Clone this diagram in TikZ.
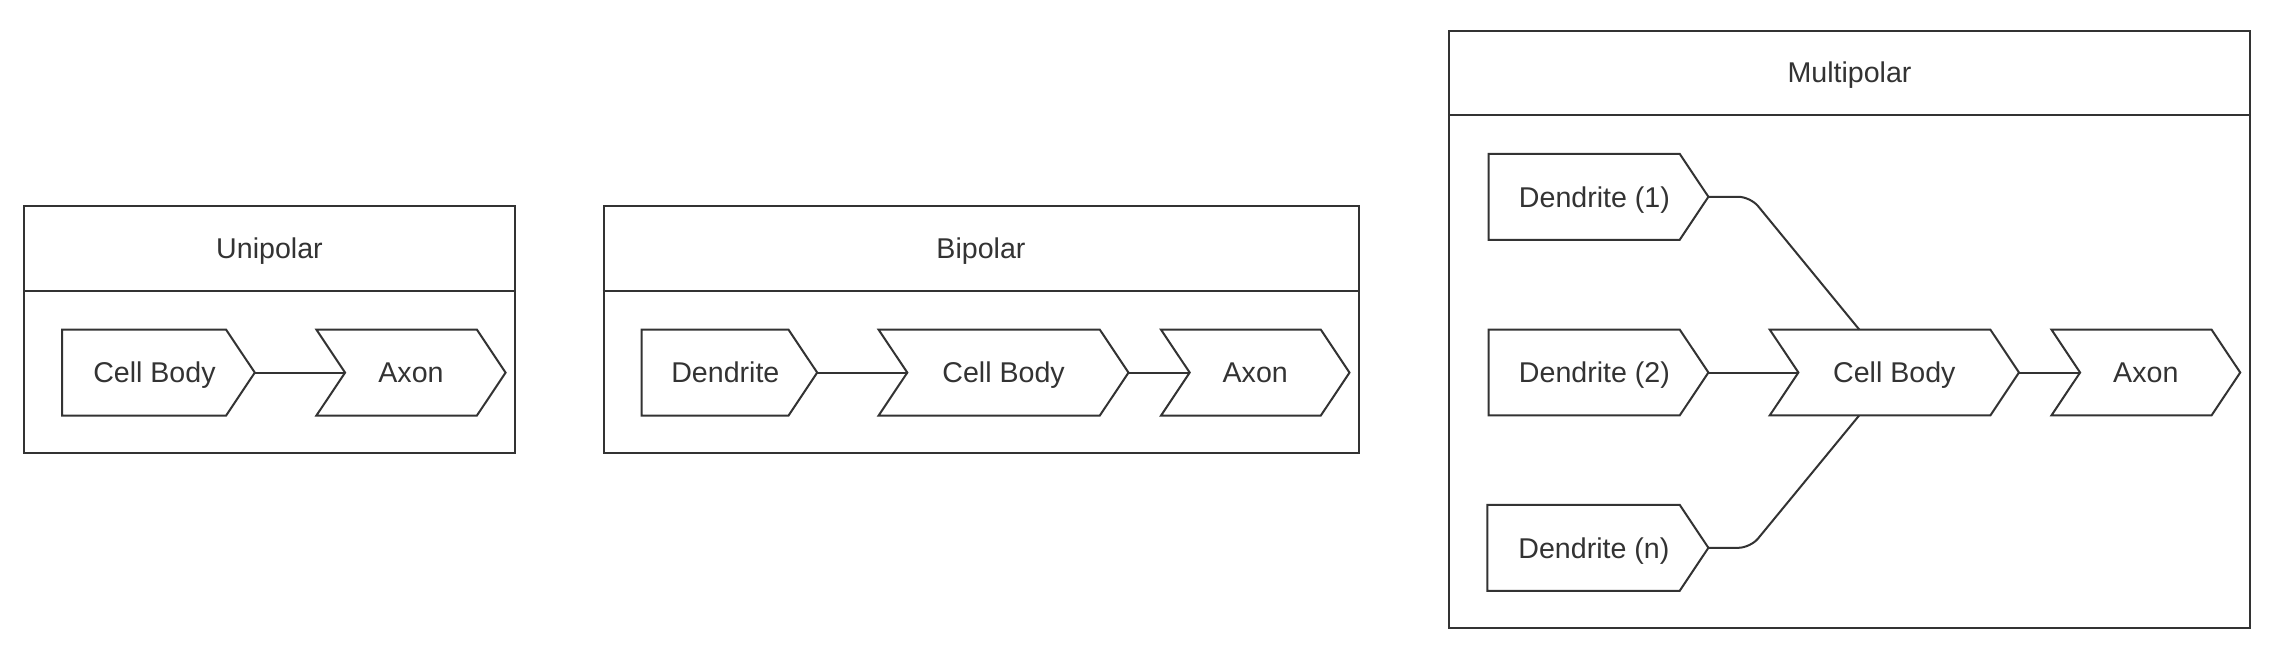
\documentclass[tikz,border=0pt]{standalone}
\usepackage{fontspec}
\setmainfont{Liberation Sans}
\definecolor{linec}{HTML}{333333}
\definecolor{textc}{HTML}{333333}
\newcommand{\lblfont}{\fontsize{28.6}{34}\selectfont}
\newcommand{\tipd}{28.7pt}
\tikzset{
  stepbox/.style={rectangle, draw=none, inner sep=0pt, minimum height=85.5pt,
    text=textc, font=\lblfont, text height=20.5pt, text depth=0pt},
  shapeline/.style={draw=linec, line width=2pt},
  conn/.style={draw=linec, line width=2pt},
  groupbox/.style={rectangle, draw=linec, line width=2pt, inner sep=0pt},
  titlest/.style={text=textc, font=\lblfont, text height=20.5pt, text depth=0pt, inner sep=0pt},
}
\newcommand{\stepshape}[6]{%
  \ifnum#5=1
    \node[stepbox, minimum width={(#3)-(#2)}] (#1) at ({((#2)+(#3))/2},#4) {#6};
    \draw[shapeline] (#1.north west) -- ([xshift=-\tipd]#1.north east) -- (#1.east)
      -- ([xshift=-\tipd]#1.south east) -- (#1.south west) -- ([xshift=\tipd]#1.west) -- cycle;
  \else
    \node[stepbox, minimum width={(#3)-(#2)}] (#1) at ({((#2)+(#3))/2},#4) {#6\hspace*{8pt}};
    \draw[shapeline] (#1.north west) -- ([xshift=-\tipd]#1.north east) -- (#1.east)
      -- ([xshift=-\tipd]#1.south east) -- (#1.south west) -- cycle;
  \fi
  \coordinate (#1-in) at ([xshift=\tipd]#1.west);
}
\begin{document}
\begin{tikzpicture}[x=1pt,y=-1pt]
\useasboundingbox[fill=white] (0,0) rectangle (2272,654);

% group boxes
\node[groupbox, minimum width=491pt, minimum height=247pt] (uni) at (269.5,329.5) {};
\node[groupbox, minimum width=755pt, minimum height=247pt] (bip) at (981,329.5) {};
\node[groupbox, minimum width=800.2pt, minimum height=597.6pt] (mul) at (1849.5,329.5) {};

\draw[conn] ([yshift=-85.6pt]uni.north west) -- ([yshift=-85.6pt]uni.north east);
\draw[conn] ([yshift=-85.6pt]bip.north west) -- ([yshift=-85.6pt]bip.north east);
\draw[conn] ([yshift=-85.6pt]mul.north west) -- ([yshift=-85.6pt]mul.north east);

\node[titlest] (unit) at ([yshift=-42.8pt]uni.north) {Unipolar};
\node[titlest] (bipt) at ([yshift=-42.8pt]bip.north) {Bipolar};
\node[titlest] (mult) at ([yshift=-42.8pt]mul.north) {Multipolar};

% Unipolar
\stepshape{ucb}{62.3}{254.6}{372.6}{0}{Cell Body}
\stepshape{uax}{316.6}{505.4}{372.6}{1}{Axon}
\draw[conn] (ucb.east) -- (uax-in);

% Bipolar
\stepshape{bde}{641.7}{817}{372.6}{0}{Dendrite}
\stepshape{bcb}{878.8}{1128.3}{372.6}{1}{Cell Body}
\stepshape{bax}{1161.2}{1349.3}{372.6}{1}{Axon}
\draw[conn] (bde.east) -- (bcb-in);
\draw[conn] (bcb.east) -- (bax-in);

% Multipolar
\stepshape{md1}{1488.7}{1708.2}{196.8}{0}{Dendrite (1)}
\stepshape{md2}{1488.7}{1708.2}{372.5}{0}{Dendrite (2)}
\stepshape{mdn}{1487.6}{1708.2}{547.8}{0}{Dendrite (n)}
\stepshape{mcb}{1769.9}{2018.8}{372.5}{1}{Cell Body}
\stepshape{max}{2051.6}{2240}{372.5}{1}{Axon}
\draw[conn] (md2.east) -- (mcb-in);
\draw[conn] (mcb.east) -- (max-in);
\draw[conn, rounded corners=12pt] (md1.east) -- ++(42,0) -- (mcb);
\draw[conn, rounded corners=12pt] (mdn.east) -- ++(42,0) -- (mcb);
\end{tikzpicture}
\end{document}
